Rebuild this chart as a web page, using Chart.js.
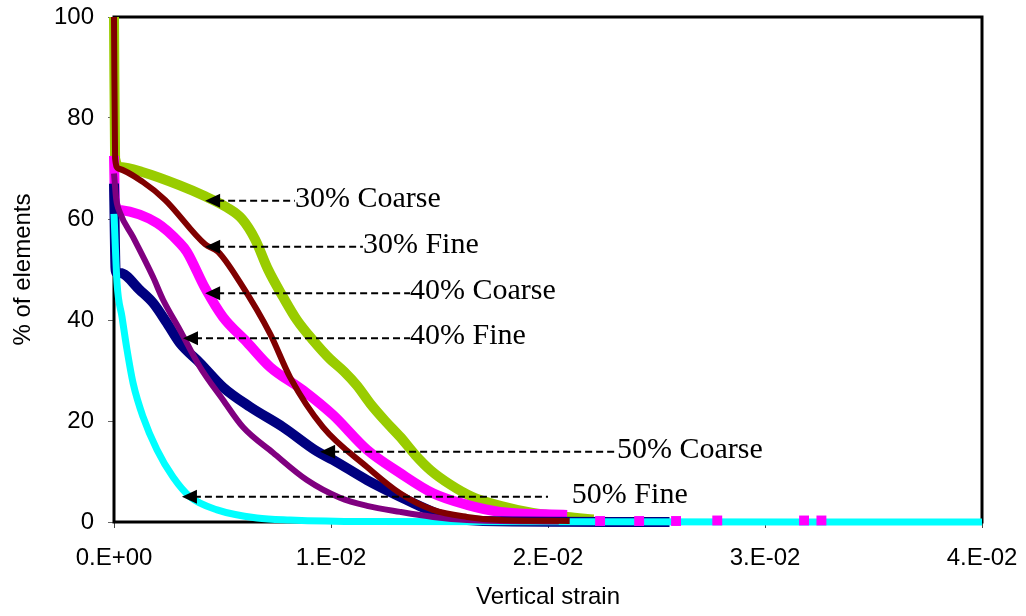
<!DOCTYPE html>
<html>
<head>
<meta charset="utf-8">
<script src="https://cdn.jsdelivr.net/npm/chart.js@4/dist/chart.umd.min.js"></script>
<style>
  body { margin: 0; background: #fff; }
  canvas { display: block; }
</style>
</head>
<body>
<canvas id="strainChart" width="1026" height="616"></canvas>
<script>
// values (x = vertical strain, y = % of elements)
const coarse30X = [0, 0.00005, 0.0003, 0.0013, 0.003, 0.0042, 0.0052, 0.0059, 0.0065, 0.0071, 0.0078, 0.00843, 0.00917, 0.00995, 0.0106, 0.0112, 0.0118, 0.0125, 0.0132, 0.0139, 0.0146, 0.0155, 0.0165, 0.0178, 0.0193, 0.02088, 0.0221];
const coarse30Y = [100, 72, 70.3, 69.3, 66.7, 64.5, 62.3, 60, 56, 50, 44.5, 40, 36, 32.3, 29.8, 27, 23.5, 20, 16.8, 13.2, 10.2, 7.4, 5, 3.2, 1.8, 1.0, 0.5];

const fine30X = [0, 0.00005, 0.0002, 0.00134, 0.00235, 0.0042, 0.0048, 0.0058, 0.00719, 0.00811, 0.00963, 0.01166, 0.01318, 0.0147, 0.01627, 0.01779, 0.021];
const fine30Y = [100, 72, 70, 67.3, 63.8, 55, 53.5, 47.5, 37.3, 28.7, 18.8, 10.9, 5.7, 2.4, 1.0, 0.4, 0.2];

const coarse40X = [0, 0.00005, 0.00028, 0.00198, 0.00304, 0.00336, 0.0042, 0.00502, 0.00613, 0.00719, 0.00871, 0.01009, 0.01166, 0.01318, 0.0147, 0.01627, 0.01779, 0.02088];
const coarse40Y = [72.5, 63, 61.8, 59.2, 55.2, 53.5, 46.3, 40.6, 35.6, 30.7, 26.1, 21.2, 14.3, 9.7, 5.7, 3.4, 2.0, 1.4];

const fine40X = [0, 0.0001, 0.00028, 0.00088, 0.0018, 0.00226, 0.00304, 0.00396, 0.00502, 0.00594, 0.00733, 0.00889, 0.01041, 0.01166, 0.01318, 0.0147, 0.01627, 0.0205];
const fine40Y = [69, 64, 61.2, 56.4, 48.5, 44, 38, 30.7, 24.2, 18.8, 13.7, 8.3, 4.8, 3.2, 2.0, 1.0, 0.4, 0.1];

const coarse50X = [0, 0.00008, 0.00028, 0.0012, 0.0018, 0.00244, 0.00304, 0.00396, 0.00502, 0.00627, 0.00779, 0.00935, 0.01009, 0.01166, 0.01318, 0.0147, 0.01562, 0.017, 0.0256];
const coarse50Y = [67, 49.5, 49.3, 45.9, 43.4, 39.4, 35.4, 31.5, 26.7, 22.8, 18.8, 14, 12.3, 8.3, 5.0, 2.0, 0.8, 0.2, 0];

const fine50X = [0, 0.00014, 0.00037, 0.0006, 0.00088, 0.00134, 0.00198, 0.00272, 0.0035, 0.00475, 0.00659, 0.00811, 0.0115, 0.04];
const fine50Y = [61, 47.3, 40.6, 34.1, 27.5, 20.8, 14.3, 8.9, 5.0, 2.4, 0.8, 0.4, 0.1, 0];

// stray square markers of the 40% Coarse series along the floor
const coarse40MarkX = [0.0224, 0.0242, 0.0259, 0.0278, 0.0318, 0.0326];
const coarse40MarkY = [0.2, 0.2, 0.2, 0.3, 0.3, 0.3];

// callout labels with dashed arrows
const calloutLabels = ['30% Coarse', '30% Fine', '40% Coarse', '40% Fine', '50% Coarse', '50% Fine'];
const calloutTipX = [0.0042, 0.0042, 0.0042, 0.00318, 0.0095, 0.00313];
const calloutTipY = [63.6, 54.5, 45.3, 36.4, 13.9, 5.0];
const calloutEndX = [0.00834, 0.01147, 0.01364, 0.01364, 0.02318, 0.02];
const calloutTextX = [0.00834, 0.01147, 0.01364, 0.01364, 0.02318, 0.0211];

const xTicks = [0, 0.01, 0.02, 0.03, 0.04];
const xTickLabels = ['0.E+00', '1.E-02', '2.E-02', '3.E-02', '4.E-02'];

function pts(xs, ys) {
  return xs.map((x, i) => ({ x: x, y: ys[i] }));
}

function series(label, xs, ys, color, width, order) {
  return {
    label: label,
    data: pts(xs, ys),
    borderColor: color,
    backgroundColor: color,
    borderWidth: width,
    pointRadius: 0,
    cubicInterpolationMode: 'monotone',
    clip: false,
    order: order
  };
}

const frameAndCallouts = {
  id: 'frameAndCallouts',
  beforeDatasetsDraw(chart) {
    const a = chart.chartArea;
    const ctx = chart.ctx;
    ctx.save();
    ctx.strokeStyle = '#000';
    ctx.lineWidth = 3;
    ctx.strokeRect(a.left, a.top, a.right - a.left, a.bottom - a.top);
    ctx.restore();
  },
  afterDatasetsDraw(chart) {
    const xs = chart.scales.x, ys = chart.scales.y;
    const ctx = chart.ctx;
    ctx.save();
    calloutLabels.forEach((lab, i) => {
      const tx = xs.getPixelForValue(calloutTipX[i]);
      const ty = ys.getPixelForValue(calloutTipY[i]);
      const ex = xs.getPixelForValue(calloutEndX[i]);
      // dashed shaft
      ctx.strokeStyle = '#000';
      ctx.lineWidth = 2;
      ctx.setLineDash([7, 4]);
      ctx.beginPath();
      ctx.moveTo(tx + 12, ty);
      ctx.lineTo(ex, ty);
      ctx.stroke();
      ctx.setLineDash([]);
      // arrow head
      ctx.fillStyle = '#000';
      ctx.beginPath();
      ctx.moveTo(tx, ty);
      ctx.lineTo(tx + 15, ty - 7);
      ctx.lineTo(tx + 15, ty + 7);
      ctx.closePath();
      ctx.fill();
      // label
      ctx.font = '30px "Liberation Serif", "Times New Roman", serif';
      ctx.textAlign = 'left';
      ctx.textBaseline = 'alphabetic';
      ctx.fillText(lab, xs.getPixelForValue(calloutTextX[i]), ty + 6);
    });
    ctx.restore();
  }
};

new Chart(document.getElementById('strainChart'), {
  type: 'line',
  data: {
    datasets: [
      series('30% Coarse', coarse30X, coarse30Y, '#99CC00', 10, 6),
      series('40% Coarse', coarse40X, coarse40Y, '#FF00FF', 10, 5),
      series('50% Coarse', coarse50X, coarse50Y, '#000080', 10, 4),
      series('50% Fine', fine50X, fine50Y, '#00FFFF', 7, 3),
      series('40% Fine', fine40X, fine40Y, '#800080', 6, 2),
      series('30% Fine', fine30X, fine30Y, '#800000', 6, 1),
      {
        label: '40% Coarse markers',
        type: 'scatter',
        data: pts(coarse40MarkX, coarse40MarkY),
        pointStyle: 'rect',
        pointRadius: 7,
        backgroundColor: '#FF00FF',
        borderColor: '#FF00FF',
        borderWidth: 0,
        clip: false,
        order: 0
      }
    ]
  },
  options: {
    responsive: false,
    animation: false,
    events: [],
    layout: { padding: { left: 0, right: 44, top: 17, bottom: 0 } },
    plugins: {
      legend: { display: false },
      tooltip: { enabled: false }
    },
    scales: {
      x: {
        type: 'linear',
        min: 0,
        max: 0.04,
        afterFit: s => { s.height = 94; s.paddingLeft = 0; s.paddingRight = 0; },
        afterBuildTicks: s => { s.ticks = xTicks.map(v => ({ value: v })); },
        ticks: {
          color: '#000',
          padding: 16,
          maxRotation: 0,
          font: { family: '"Liberation Sans", Arial, sans-serif', size: 24 },
          callback: (v) => xTickLabels[xTicks.indexOf(v)]
        },
        grid: { drawOnChartArea: false, drawTicks: true, tickLength: 6, color: '#444' },
        border: { display: false },
        title: {
          display: true,
          text: 'Vertical strain',
          color: '#000',
          padding: { top: 0, bottom: 4 },
          font: { family: '"Liberation Sans", Arial, sans-serif', size: 24 }
        }
      },
      y: {
        min: 0,
        max: 100,
        afterFit: s => { s.width = 114; s.paddingTop = 0; s.paddingBottom = 0; },
        ticks: {
          stepSize: 20,
          color: '#000',
          padding: 14,
          font: { family: '"Liberation Sans", Arial, sans-serif', size: 24 }
        },
        grid: { drawOnChartArea: false, drawTicks: true, tickLength: 6, color: '#666' },
        border: { display: false },
        title: {
          display: true,
          text: '% of elements',
          color: '#000',
          padding: { top: 9, bottom: 0 },
          font: { family: '"Liberation Sans", Arial, sans-serif', size: 24 }
        }
      }
    }
  },
  plugins: [frameAndCallouts]
});
</script>
</body>
</html>
